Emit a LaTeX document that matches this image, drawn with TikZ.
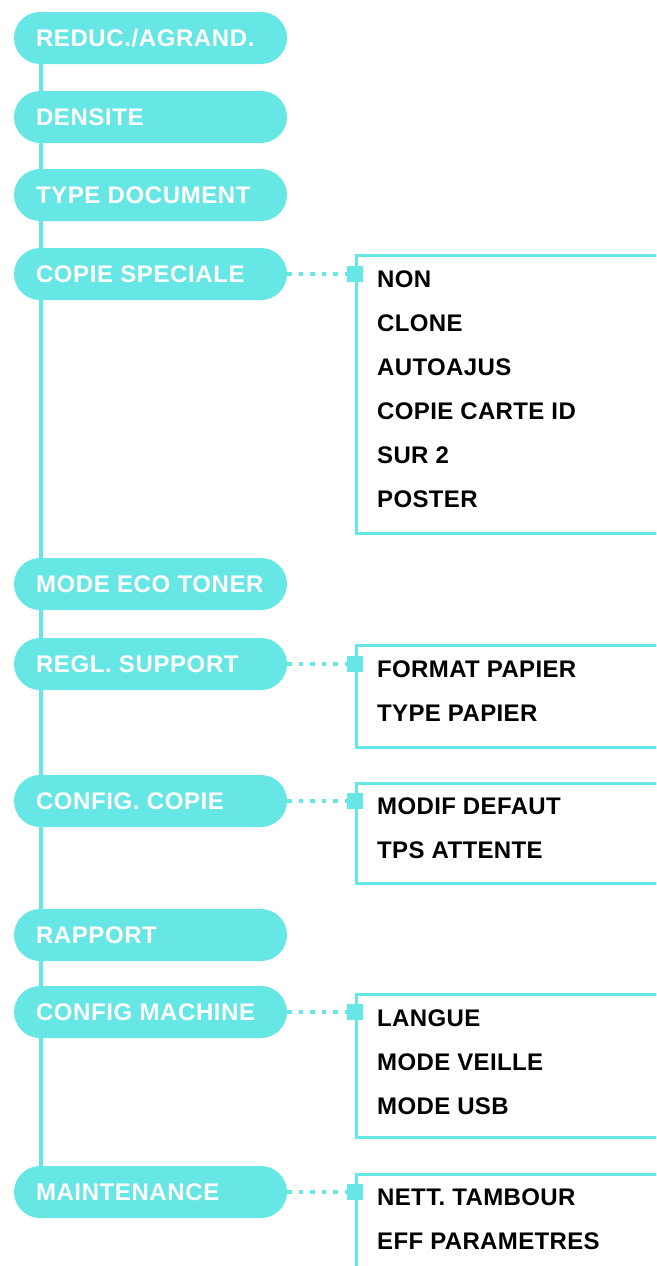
\documentclass[tikz,border=0pt]{standalone}
\usepackage{fontspec}
\setmainfont{Liberation Sans}
\usetikzlibrary{positioning}
\definecolor{menucyan}{RGB}{102,230,228}
\tikzset{
  pill/.style={fill=menucyan, rounded corners=26pt, minimum height=52pt,
    inner xsep=22pt, inner ysep=0pt, text=white,
    font=\bfseries\fontsize{24}{24}\selectfont\addfontfeature{LetterSpace=2.5},
    execute at begin node={\hbox to 229pt\bgroup},
    execute at end node={\hfil\egroup},
    text height=17.3pt, text depth=0pt},
  subbox/.style={draw=menucyan, line width=3pt, anchor=north west,
    minimum width=400pt, inner sep=0pt},
  item/.style={anchor=west, inner sep=0pt,
    font=\bfseries\fontsize{24}{24}\selectfont\addfontfeature{LetterSpace=1.5},
    text height=17.3pt, text depth=0pt},
  knob/.style={fill=menucyan, minimum size=16pt, inner sep=0pt},
  dotline/.style={menucyan, line width=4pt, dash pattern=on 4.5pt off 7pt},
  trunk/.style={menucyan, line width=4pt}
}
\begin{document}
\begin{tikzpicture}[x=1pt,y=-1pt]
\clip (0,0) rectangle (656,1266);

% main menu
\node[pill] (p1) at (150.5,38) {REDUC./AGRAND.};
\node[pill] (p2) at (150.5,117) {DENSITE};
\node[pill] (p3) at (150.5,195) {TYPE DOCUMENT};
\node[pill] (p4) at (150.5,274) {COPIE SPECIALE};
\node[pill] (p5) at (150.5,584) {MODE ECO TONER};
\node[pill] (p6) at (150.5,664) {REGL. SUPPORT};
\node[pill] (p7) at (150.5,801) {CONFIG. COPIE};
\node[pill] (p8) at (150.5,935) {RAPPORT};
\node[pill] (p9) at (150.5,1012) {CONFIG MACHINE};
\node[pill] (p10) at (150.5,1192) {MAINTENANCE};

\foreach \a/\b in {p1/p2,p2/p3,p3/p4,p4/p5,p5/p6,p6/p7,p7/p8,p8/p9,p9/p10}
  \draw[trunk] ([xshift=27pt]\a.south west) -- ([xshift=27pt]\b.north west);

% sub menus
\node[subbox, minimum height=278pt] (b1) at (355,254) {};
\node[subbox, minimum height=102pt] (b2) at (355,644) {};
\node[subbox, minimum height=100pt] (b3) at (355,782) {};
\node[subbox, minimum height=143pt] (b4) at (355,993) {};
\node[subbox, minimum height=140pt] (b5) at (355,1173) {};

\foreach \p/\b in {p4/b1,p6/b2,p7/b3,p9/b4,p10/b5}{
  \node[knob] (k\b) at (\b.west |- \p.east) {};
  \draw[dotline] (\p.east) -- (k\b.west);
}

\foreach \t [count=\i] in {NON,CLONE,AUTOAJUS,COPIE CARTE ID,SUR 2,POSTER}
  \node[item] (b1i\i) at (377,235+44*\i) {\t};
\foreach \t [count=\i] in {FORMAT PAPIER,TYPE PAPIER}
  \node[item] (b2i\i) at (377,625+44*\i) {\t};
\foreach \t [count=\i] in {MODIF DEFAUT,TPS ATTENTE}
  \node[item] (b3i\i) at (377,762+44*\i) {\t};
\foreach \t [count=\i] in {LANGUE,MODE VEILLE,MODE USB}
  \node[item] (b4i\i) at (377,974+44*\i) {\t};
\foreach \t [count=\i] in {NETT. TAMBOUR,EFF PARAMETRES}
  \node[item] (b5i\i) at (377,1153+44*\i) {\t};
\end{tikzpicture}
\end{document}
